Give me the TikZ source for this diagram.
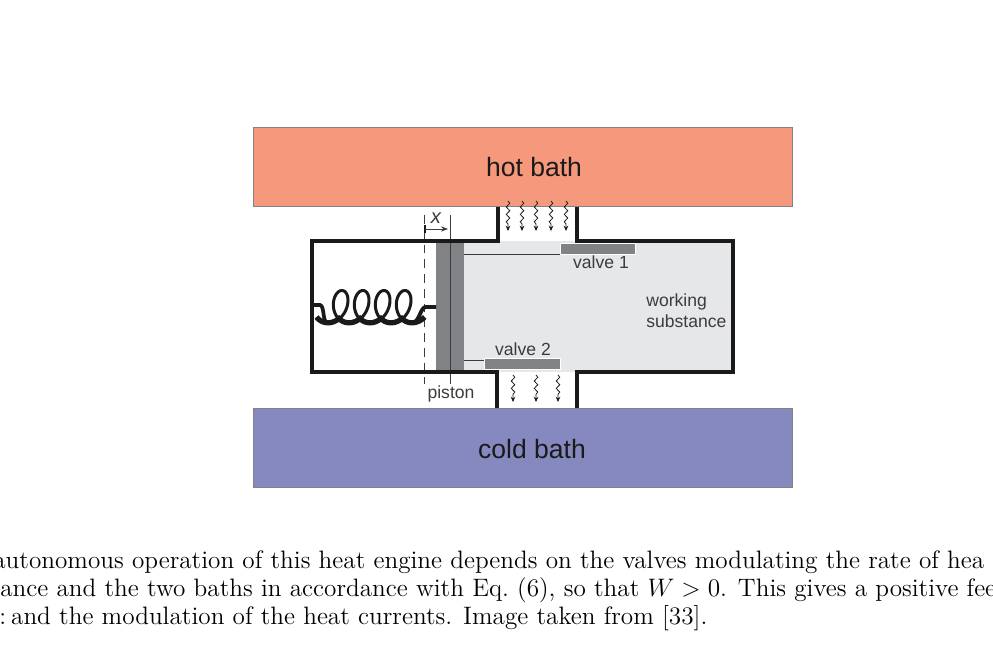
\documentclass[tikz,border=0pt]{standalone}
\usepackage{fontspec}
\setsansfont{Liberation Sans}
\usetikzlibrary{arrows.meta, positioning, decorations.pathmorphing}
\definecolor{HotBath}{HTML}{F6987B}
\definecolor{ColdBath}{HTML}{8589BF}
\definecolor{Substance}{HTML}{E6E7E9}
\definecolor{PistonGray}{HTML}{808285}
\definecolor{WallBlack}{HTML}{1A1A1A}
\tikzset{
    bath/.style={draw=PistonGray, line width=0.5pt, minimum width=10.78cm, minimum height=1.59cm, inner sep=0pt},
    wall/.style={WallBlack, line width=2pt},
    thinline/.style={WallBlack!85, line width=0.55pt},
    heatflow/.style={WallBlack, line width=0.45pt, -{Stealth[length=3pt,width=2.6pt]},
        decorate, decoration={snake, segment length=4.2pt, amplitude=1pt, post length=3pt}},
    biglabel/.style={font=\sffamily\fontsize{15.1}{16}\selectfont, text=WallBlack},
    smalllabel/.style={font=\sffamily\fontsize{10}{12}\selectfont, text=WallBlack!85, inner sep=0pt},
    valvebar/.style={fill=PistonGray, draw=white, line width=0.5pt},
    captionline/.style={font=\rmfamily\fontsize{14.35}{16}\selectfont, anchor=base west, inner sep=0pt}
}
\begin{document}
\begin{tikzpicture}[x=0.02cm, y=-0.02cm]
    \useasboundingbox (0,0) rectangle (993,666);
    \fill[white] (0,0) rectangle (993,666);
    % Baths
    \node[bath, fill=HotBath] (hotbath) at (522.5,167) {};
    \node[bath, fill=ColdBath] (coldbath) at (522.5,448) {};
    \node[biglabel] (hotlabel) at (534,167) {hot bath};
    \node[biglabel] (coldlabel) at (532,449) {cold bath};
    % Working substance
    \fill[Substance] (464,241) rectangle (733,372);
    % Piston
    \fill[PistonGray] (436,242) rectangle (464,372);
    \draw[thinline] (450,215) -- (450,384);
    \draw[thinline, dash pattern=on 5pt off 3.4pt] (424,215) -- (424,384);
    % Cylinder walls and necks
    \draw[wall, line join=miter] (498,207) -- (498,241) -- (312,241) -- (312,372) -- (497,372) -- (497,408);
    \draw[wall, line join=miter] (577,207) -- (577,241) -- (733,241) -- (733,372) -- (577,372) -- (577,408);
    % Valves
    \draw[thinline] (464,254) -- (561,254);
    \draw[thinline] (464,360) -- (485,360);
    \path[valvebar] (560.5,243.5) rectangle (635.5,254.5);
    \path[valvebar] (484.5,358.5) rectangle (560.5,369.5);
    % Spring
    \draw[WallBlack, line width=2.1pt, line cap=round] (313,305) -- (320,305) .. controls (325,306) and (322,323) .. (328,323);
    \draw[WallBlack, line width=1.7pt] plot[domain=0:1440, samples=240, smooth] ({328+\x/360*21+12*sin(\x)+1.7*(1-cos(\x))},{307+16.5*cos(\x)});
    \foreach \k in {0,1,2,3,4}
        \draw[WallBlack, line width=3pt] plot[domain=-50:50, samples=16, smooth] ({328+(\k+\x/360)*21+12*sin(\x)+1.7*(1-cos(\x))},{306.6+16.2*cos(\x)});
    \draw[WallBlack, line width=2.2pt] (412,323) .. controls (420,322) and (420,307) .. (426,307) -- (436,307);
    % Displacement
    \draw[WallBlack, line width=1.2pt] (425,225) -- (425,233);
    \draw[thinline, -{Stealth[length=4pt,width=3pt]}] (425,229) -- (448,229);
    \node[smalllabel, font=\sffamily\itshape\fontsize{11.5}{12}\selectfont] (xlabel) at (436,218) {x};
    % Heat currents
    \foreach \xpos in {508,522,536,551,566}
        \draw[heatflow] (\xpos,201) -- (\xpos,231);
    \foreach \xpos in {513,536,558}
        \draw[heatflow] (\xpos,375) -- (\xpos,402);
    % Labels
    \node[smalllabel] (valveone) at (601,262) {valve 1};
    \node[smalllabel] (valvetwo) at (523,349) {valve 2};
    \node[smalllabel] (pistonlabel) at (451,394) {piston};
    \node[smalllabel, align=left, anchor=west] (worklabel) at (646,310.5) {working\\substance};
    % Caption
    \begin{scope}
        \clip (0,0) rectangle (993,666);
        \node[captionline] (capone) at (-7,568) {autonomous operation of this heat engine depends on the valves modulating the rate of hea};
        \node[captionline] (captwo) at (0,596) {ance and the two baths in accordance with Eq.~(6), so that $W>0$. This gives a positive fee};
        \node[captionline] (capthree) at (-1,624) {:\hspace{-3.4pt} and the modulation of the heat currents. Image taken from [33].};
    \end{scope}
\end{tikzpicture}
\end{document}
